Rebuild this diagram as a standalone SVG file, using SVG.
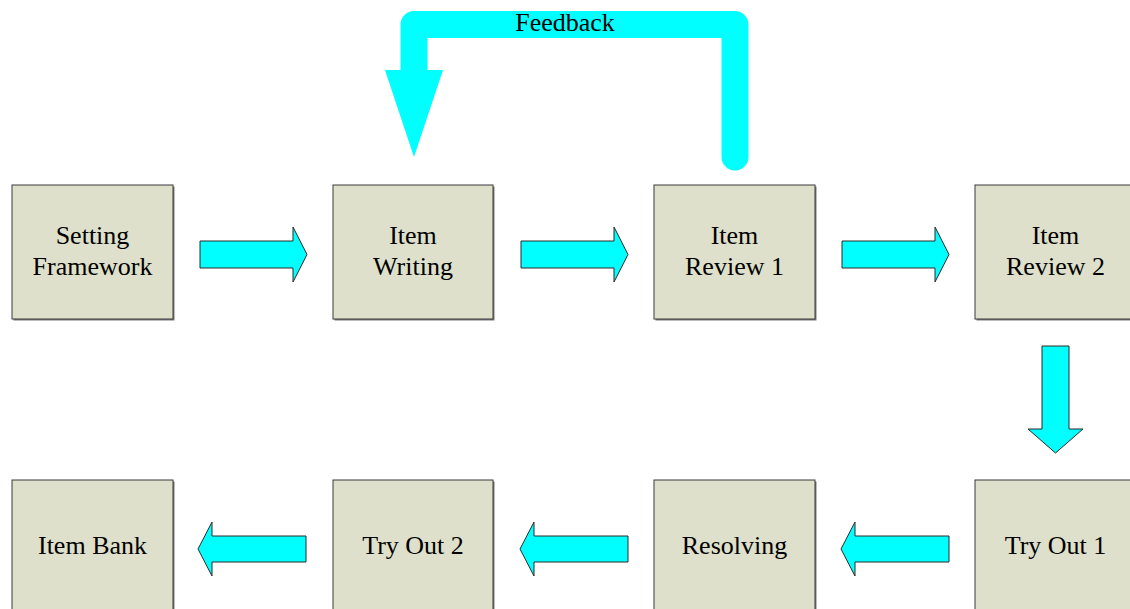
<svg xmlns="http://www.w3.org/2000/svg" width="1130" height="609" viewBox="0 0 1130 609">
  <style>
    .box { fill: #dee0cb; stroke: #3a3a3a; stroke-width: 1; }
    .shadow { fill: #7a7a7a; }
    .lbl { font-family: "Liberation Serif", "Times New Roman", serif; font-size: 26px; fill: #000; text-anchor: middle; }
    .blk { fill: #00ffff; stroke: #2a2a2a; stroke-width: 1; stroke-linejoin: miter; }
    .loop { fill: none; stroke: #00ffff; stroke-width: 27; stroke-linejoin: round; stroke-linecap: round; }
  </style>
  <defs>
    <!-- block arrow pointing right, origin at the tail's top-left corner of the shaft -->
    <polygon id="arrowR" points="0,0 93,0 93,-14 107,13.5 93,41 93,27 0,27"/>
    <polygon id="arrowL" points="108,0 14,0 14,-14 0,13 14,40 14,26 108,26"/>
  </defs>
  <rect width="1130" height="609" fill="#fff"/>

  <!-- process steps -->
  <g id="setting-framework">
    <rect class="shadow" x="13.5" y="186.5" width="161" height="134"/>
    <rect class="box" x="12" y="185" width="161" height="134"/>
    <text class="lbl" x="92.5" y="244">Setting</text>
    <text class="lbl" x="92.5" y="275">Framework</text>
  </g>
  <g id="item-writing">
    <rect class="shadow" x="334.5" y="186.5" width="160" height="134"/>
    <rect class="box" x="333" y="185" width="160" height="134"/>
    <text class="lbl" x="413" y="244">Item</text>
    <text class="lbl" x="413" y="275">Writing</text>
  </g>
  <g id="item-review-1">
    <rect class="shadow" x="655.5" y="186.5" width="161" height="134"/>
    <rect class="box" x="654" y="185" width="161" height="134"/>
    <text class="lbl" x="734.5" y="244">Item</text>
    <text class="lbl" x="734.5" y="275">Review 1</text>
  </g>
  <g id="item-review-2">
    <rect class="shadow" x="976.5" y="186.5" width="161" height="134"/>
    <rect class="box" x="975" y="185" width="161" height="134"/>
    <text class="lbl" x="1055.5" y="244">Item</text>
    <text class="lbl" x="1055.5" y="275">Review 2</text>
  </g>
  <g id="try-out-1">
    <rect class="shadow" x="976.5" y="481.5" width="161" height="134"/>
    <rect class="box" x="975" y="480" width="161" height="134"/>
    <text class="lbl" x="1055.5" y="554">Try Out 1</text>
  </g>
  <g id="resolving">
    <rect class="shadow" x="655.5" y="481.5" width="161" height="134"/>
    <rect class="box" x="654" y="480" width="161" height="134"/>
    <text class="lbl" x="734.5" y="554">Resolving</text>
  </g>
  <g id="try-out-2">
    <rect class="shadow" x="334.5" y="481.5" width="160" height="134"/>
    <rect class="box" x="333" y="480" width="160" height="134"/>
    <text class="lbl" x="413" y="554">Try Out 2</text>
  </g>
  <g id="item-bank">
    <rect class="shadow" x="13.5" y="481.5" width="161" height="134"/>
    <rect class="box" x="12" y="480" width="161" height="134"/>
    <text class="lbl" x="92.5" y="554">Item Bank</text>
  </g>

  <!-- connectors -->
  <g id="connectors">
    <use href="#arrowR" class="blk" x="200" y="241"/>
    <use href="#arrowR" class="blk" x="521" y="241"/>
    <use href="#arrowR" class="blk" x="842" y="241"/>
    <polygon class="blk" points="1042,346 1069,346 1069,429 1083,429 1055.5,453 1028,429 1042,429"/>
    <use href="#arrowL" class="blk" x="841" y="536"/>
    <use href="#arrowL" class="blk" x="520" y="536"/>
    <use href="#arrowL" class="blk" x="198" y="536"/>
    <!-- feedback loop from Item Review 1 back to Item Writing -->
    <g id="feedback">
      <path class="loop" d="M414,80 V24.5 H735 V157"/>
      <polygon fill="#00ffff" points="385,70 443,70 414,157"/>
      <text class="lbl" x="565" y="31">Feedback</text>
    </g>
  </g>
</svg>
